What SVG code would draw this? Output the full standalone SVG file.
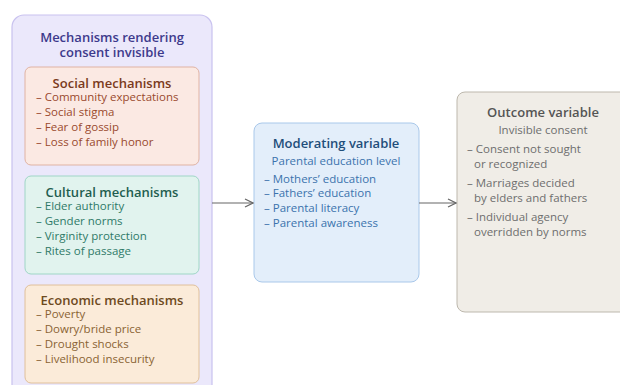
<svg xmlns="http://www.w3.org/2000/svg" width="620" height="385" viewBox="0 0 620 385">
<defs>
<marker id="ah" markerWidth="10" markerHeight="10" refX="9" refY="5" orient="auto" markerUnits="userSpaceOnUse">
<path d="M1,1 L9,5 L1,9" fill="none" stroke="#666" stroke-width="1.2"/>
</marker>
<style>
text{font-family:"Open Sans","Noto Sans","DejaVu Sans",sans-serif;}
.t{font-size:13px;font-weight:600;text-anchor:middle;}
.i{font-size:11.5px;}
.c{font-size:11.5px;text-anchor:middle;}
</style>
</defs>
<rect width="620" height="385" fill="#fff"/>
<g id="mechanisms">
<rect x="12" y="15" width="200" height="385" rx="12" fill="#ebe8fb" stroke="#c9c2ef" stroke-width="1.2"/>
<text class="t" x="112" y="42" fill="#3d3a8c">Mechanisms rendering</text>
<text class="t" x="112" y="57" fill="#3d3a8c">consent invisible</text>
</g>
<g id="social">
<rect x="25" y="67" width="174" height="98" rx="6" fill="#fbe9e3" stroke="#e0b3a3"/>
<text class="t" x="112" y="88" fill="#7a3a20">Social mechanisms</text>
<g class="i" fill="#9a4a2e">
<text x="36" y="101">– Community expectations</text>
<text x="36" y="116">– Social stigma</text>
<text x="36" y="131">– Fear of gossip</text>
<text x="36" y="146">– Loss of family honor</text>
</g>
</g>
<g id="cultural">
<rect x="25" y="176" width="174" height="98" rx="6" fill="#e1f3ee" stroke="#9fd6c6"/>
<text class="t" x="112" y="197" fill="#1f5e50">Cultural mechanisms</text>
<g class="i" fill="#2f7a68">
<text x="36" y="210">– Elder authority</text>
<text x="36" y="225">– Gender norms</text>
<text x="36" y="240">– Virginity protection</text>
<text x="36" y="255">– Rites of passage</text>
</g>
</g>
<g id="economic">
<rect x="25" y="285" width="174" height="98" rx="6" fill="#fbebd9" stroke="#e0c09a"/>
<text class="t" x="112" y="305" fill="#6e4a1e">Economic mechanisms</text>
<g class="i" fill="#8a6333">
<text x="36" y="318">– Poverty</text>
<text x="36" y="333">– Dowry/bride price</text>
<text x="36" y="348">– Drought shocks</text>
<text x="36" y="363">– Livelihood insecurity</text>
</g>
</g>
<g id="moderating">
<rect x="254" y="123" width="165" height="159" rx="8" fill="#e3eefa" stroke="#a9c8ea"/>
<text class="t" x="336" y="148" fill="#1f4e7a">Moderating variable</text>
<text class="c" x="336" y="165" fill="#3b73ad">Parental education level</text>
<g class="i" fill="#3b73ad">
<text x="264" y="183">– Mothers’ education</text>
<text x="264" y="197">– Fathers’ education</text>
<text x="264" y="212">– Parental literacy</text>
<text x="264" y="227">– Parental awareness</text>
</g>
</g>
<g id="outcome">
<rect x="457" y="92" width="180" height="220" rx="8" fill="#f0ede7" stroke="#bdb8ad"/>
<text class="t" x="543" y="117" fill="#555">Outcome variable</text>
<text class="c" x="543" y="134" fill="#6e6e6e">Invisible consent</text>
<g class="i" fill="#6e6e6e">
<text x="467" y="153">– Consent not sought</text>
<text x="474" y="168">or recognized</text>
<text x="467" y="187">– Marriages decided</text>
<text x="474" y="202">by elders and fathers</text>
<text x="467" y="221">– Individual agency</text>
<text x="474" y="236">overridden by norms</text>
</g>
</g>
<g id="connectors" stroke="#666" stroke-width="1.2" fill="none">
<line x1="212" y1="203" x2="253" y2="203" marker-end="url(#ah)"/>
<line x1="419" y1="203" x2="456" y2="203" marker-end="url(#ah)"/>
</g>
</svg>
